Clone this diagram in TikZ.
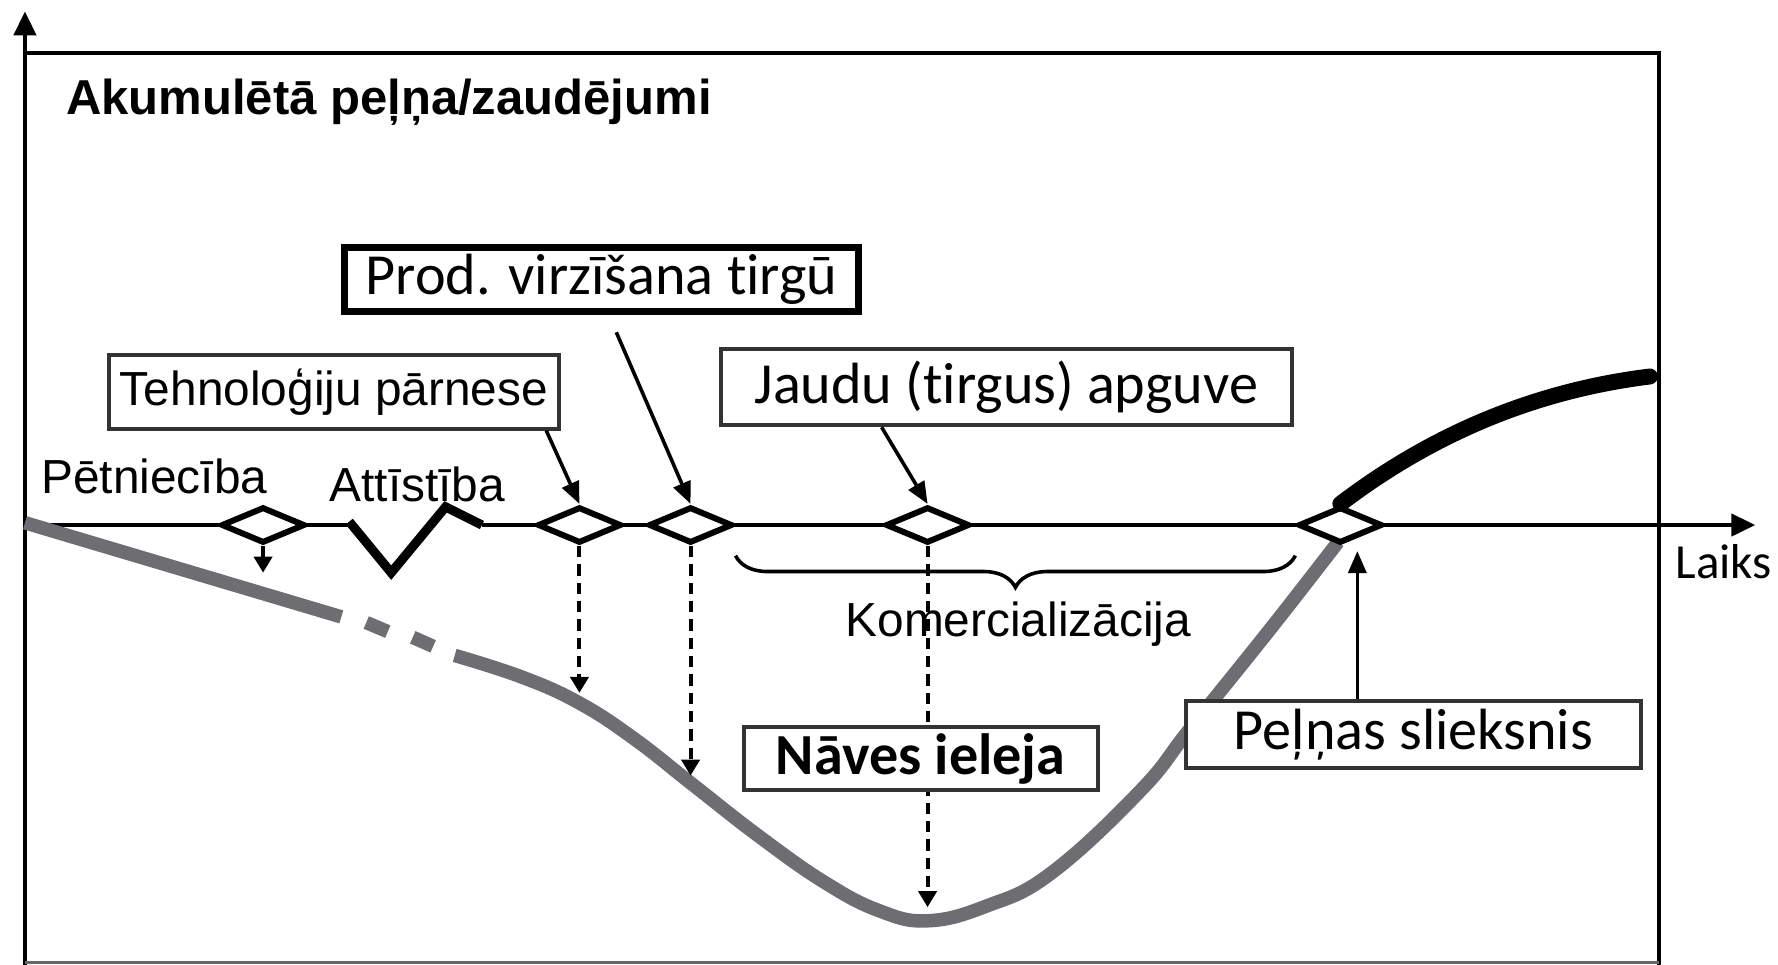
\documentclass[tikz,border=0pt]{standalone}
\usepackage{fontspec}
\setmainfont{Liberation Sans}
\newfontfamily\calibrifont[RawFeature={-liga;-clig;-calt}]{Carlito}
\usepackage{tikz}
\usetikzlibrary{positioning}
\usetikzlibrary{shapes.geometric}
\usetikzlibrary{arrows.meta}
\usetikzlibrary{decorations.pathreplacing}

\definecolor{valleygray}{RGB}{110,110,114}

\begin{document}
\begin{tikzpicture}[
  axisline/.style={line width=1.1pt},
  stage/.style={diamond, draw, line width=1.5pt, fill=white, minimum width=0.74cm, minimum height=0.32cm, inner sep=0pt},
  callout/.style={draw=black!80, line width=1pt, fill=white, inner sep=0pt, font=\calibrifont\fontsize{14.6}{17}\selectfont},
  phase/.style={inner sep=0pt, font=\fontsize{12}{14}\selectfont},
  drop/.style={line width=1pt, dash pattern=on 2.8pt off 1.8pt, -{Triangle[length=4pt,width=4.5pt]}},
  pointer/.style={line width=0.9pt, -{Triangle[length=5.5pt,width=4.5pt]}},
  valley/.style={line width=3.4pt, valleygray},
]
\useasboundingbox (0,0) rectangle (15.68,-8.51);

% Axes and frame
\draw [axisline, -{Triangle[length=6pt,width=5.5pt]}] (0.22,-8.51) -- (0.22,-0.10);
\draw [axisline] (0.22,-0.47) -- (14.63,-0.47) -- (14.63,-8.51);
\draw [line width=0.7pt, black!60] (0.22,-8.49) -- (14.63,-8.49);
\draw [axisline] (0.22,-4.63) -- (3.08,-4.63);
\draw [axisline, -{Triangle[length=6pt,width=5.5pt]}] (4.25,-4.63) -- (15.48,-4.63);
\draw [line width=2.3pt] (3.08,-4.60) -- (3.45,-5.05) -- (3.93,-4.47) -- (4.25,-4.63);

\node [font=\bfseries\fontsize{12.3}{15}\selectfont] (title) at (3.43,-0.90) {Akumulētā peļņa/zaudējumi};
\node [font=\calibrifont\fontsize{12.3}{15}\selectfont] (time) at (15.20,-4.95) {Laiks};

% Cumulative curve
\draw [valley] (0.22,-4.61) -- (3.01,-5.44);
\draw [valley] (3.23,-5.49) -- (3.42,-5.57);
\draw [valley] (3.64,-5.62) -- (3.82,-5.70);
\draw [valley] plot [smooth, tension=0.7] coordinates {(4.01,-5.78) (4.60,-5.97) (5.11,-6.20) (5.60,-6.52) (6.11,-6.92) (6.70,-7.38) (7.27,-7.78) (7.75,-8.03) (8.18,-8.12) (8.70,-7.99) (9.27,-7.70) (10.06,-6.97) (10.50,-6.42) (11.20,-5.55) (11.80,-4.78)};

% Milestones
\node [stage] (res_pt) at (2.32,-4.63) {};
\node [stage] (transfer_pt) at (5.11,-4.63) {};
\node [stage] (launch_pt) at (6.09,-4.63) {};
\node [stage] (market_pt) at (8.18,-4.63) {};
\node [stage] (even_pt) at (11.82,-4.63) {};

\draw [line width=4pt, line cap=round] (even_pt.north) .. controls (12.6,-3.85) and (13.5,-3.45) .. (14.55,-3.32);

\coordinate (res_low) at (2.32,-5.05);
\coordinate (transfer_low) at (5.11,-6.11);
\coordinate (launch_low) at (6.09,-6.84);
\coordinate (market_low) at (8.18,-8.00);
\draw [drop] (res_pt.south) -- (res_low);
\draw [drop] (transfer_pt.south) -- (transfer_low);
\draw [drop] (launch_pt.south) -- (launch_low);
\draw [drop] (market_pt.south) -- (market_low);

\draw [decorate, decoration={brace, mirror, amplitude=0.28cm}, line width=0.9pt] ([yshift=-0.27cm]launch_pt.east) -- ([yshift=-0.27cm]even_pt.west);

% Phase labels
\node [phase] (research) at (1.36,-4.20) {Pētniecība};
\node [phase] (develop) at (3.68,-4.27) {Attīstība};
\node [phase] (commerce) at (8.98,-5.50) {Komercializācija};

% Callouts
\node [callout, font=\fontsize{12}{14}\selectfont, minimum width=3.97cm, minimum height=0.65cm] (transfer) at (2.945,-3.455) {Tehnoloģiju pārnese};
\node [callout, draw=black, line width=1.7pt, minimum width=4.53cm, minimum height=0.57cm] (launch) at (5.305,-2.465) {Prod. virzīšana tirgū};
\node [callout, minimum width=5.03cm, minimum height=0.67cm] (market) at (8.875,-3.415) {Jaudu (tirgus) apguve};
\node [callout, font=\calibrifont\bfseries\fontsize{14.6}{17}\selectfont, minimum width=3.12cm, minimum height=0.56cm] (valley) at (8.12,-6.69) {Nāves ieleja};
\node [callout, minimum width=4.01cm, minimum height=0.59cm] (breakeven) at (12.465,-6.475) {Peļņas slieksnis};

\coordinate (even_up) at (11.97,-4.86);
\draw [pointer] ([xshift=-0.13cm]transfer.south east) -- (transfer_pt.north);
\draw [pointer] ([xshift=0.13cm,yshift=-0.15cm]launch.south) -- (launch_pt.north);
\draw [pointer] ([xshift=-1.1cm]market.south) -- (market_pt.north);
\draw [pointer] (breakeven.north -| even_up) -- (even_up);

\end{tikzpicture}
\end{document}
